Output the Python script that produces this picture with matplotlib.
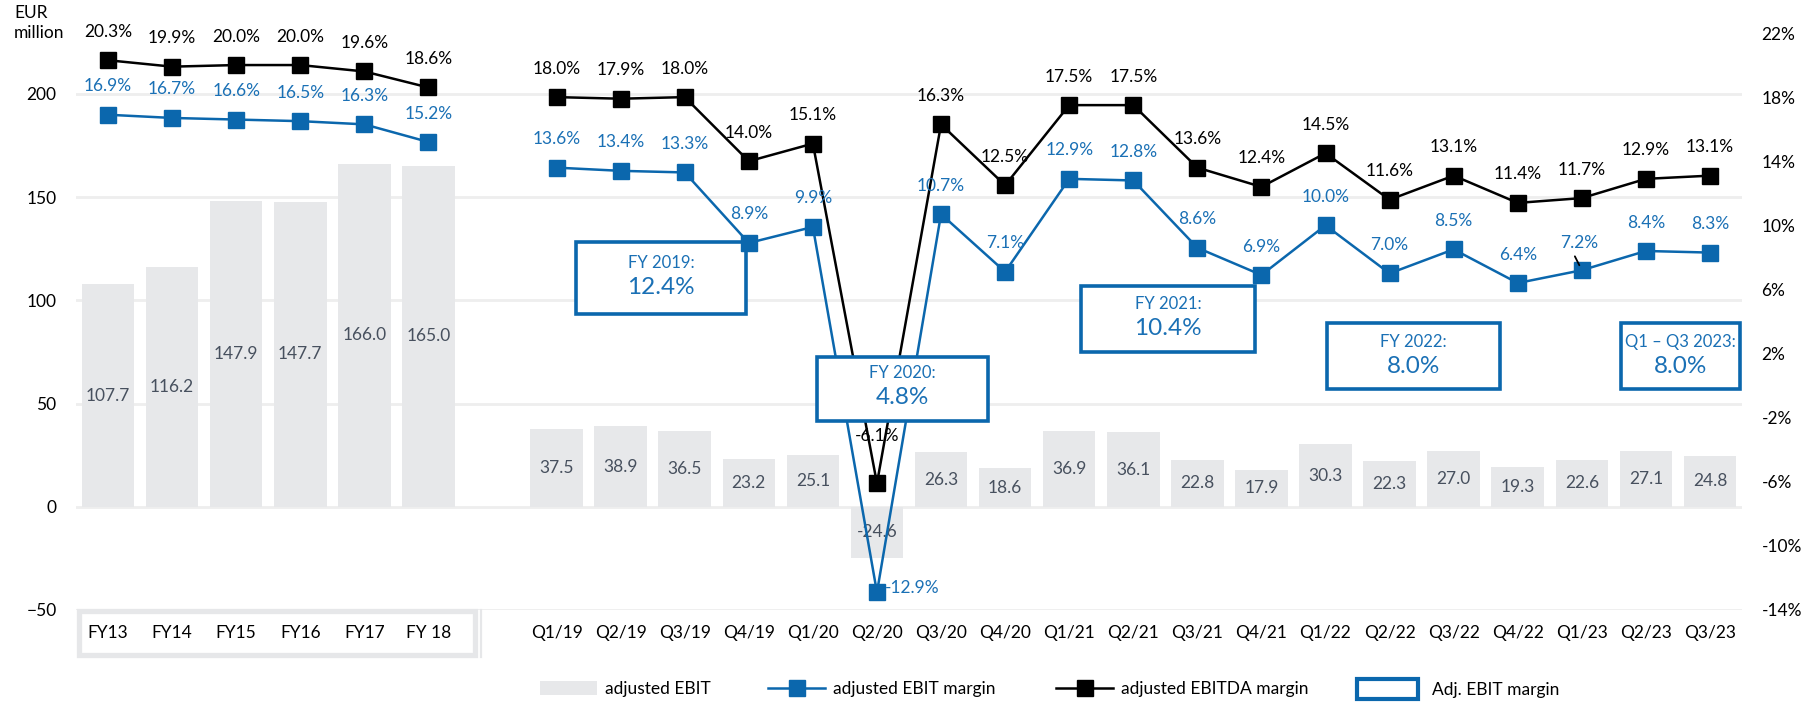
import matplotlib
matplotlib.use("Agg")
import matplotlib.pyplot as plt
from matplotlib.patches import Rectangle, Patch
from matplotlib.lines import Line2D
import numpy as np

plt.rcParams['font.family'] = ['Lato', 'DejaVu Sans']

# ---------------- data ----------------
fy_labels = ["FY13", "FY14", "FY15", "FY16", "FY17", "FY 18"]
q_labels = ["Q1/19", "Q2/19", "Q3/19", "Q4/19", "Q1/20", "Q2/20", "Q3/20", "Q4/20",
            "Q1/21", "Q2/21", "Q3/21", "Q4/21", "Q1/22", "Q2/22", "Q3/22", "Q4/22",
            "Q1/23", "Q2/23", "Q3/23"]

fy_ebit = [107.7, 116.2, 147.9, 147.7, 166.0, 165.0]
q_ebit = [37.5, 38.9, 36.5, 23.2, 25.1, -24.6, 26.3, 18.6, 36.9, 36.1, 22.8, 17.9,
          30.3, 22.3, 27.0, 19.3, 22.6, 27.1, 24.8]

fy_ebit_margin = [16.9, 16.7, 16.6, 16.5, 16.3, 15.2]
q_ebit_margin = [13.6, 13.4, 13.3, 8.9, 9.9, -12.9, 10.7, 7.1, 12.9, 12.8, 8.6, 6.9,
                 10.0, 7.0, 8.5, 6.4, 7.2, 8.4, 8.3]

fy_ebitda_margin = [20.3, 19.9, 20.0, 20.0, 19.6, 18.6]
q_ebitda_margin = [18.0, 17.9, 18.0, 14.0, 15.1, -6.1, 16.3, 12.5, 17.5, 17.5, 13.6, 12.4,
                   14.5, 11.6, 13.1, 11.4, 11.7, 12.9, 13.1]

box_titles = ["FY 2019:", "FY 2020:", "FY 2021:", "FY 2022:", "Q1 \u2013 Q3 2023:"]
box_values = ["12.4%", "4.8%", "10.4%", "8.0%", "8.0%"]

legend_labels = ["adjusted EBIT", "adjusted EBIT margin", "adjusted EBITDA margin", "Adj. EBIT margin"]

left_ticks = [-50, 0, 50, 100, 150, 200]
right_ticks = [-14, -10, -6, -2, 2, 6, 10, 14, 18, 22]

# ---------------- assembly ----------------
labels = fy_labels + [""] + q_labels
ebit = np.array(fy_ebit + [np.nan] + q_ebit)
ebit_m = np.array(fy_ebit_margin + [np.nan] + q_ebit_margin)
ebitda_m = np.array(fy_ebitda_margin + [np.nan] + q_ebitda_margin)
x = np.arange(len(labels))

BLUE = '#0b67ad'
BLUE_TXT = '#1a70b5'
BAR = '#e7e8ea'
GRID = '#eeeeee'
BAR_TXT = '#47505e'

W, H = 1805, 702
fig = plt.figure(figsize=(W / 100, H / 100), dpi=100)
L, R, B, T = 76 / W, 1742 / W, 1 - 610 / H, 1 - 33 / H
ax = fig.add_axes([L, B, R - L, T - B])
ax.set_xlim(-0.5, len(labels) - 0.5)
ax.set_ylim(-50, 229.5)

ax.bar(x, ebit, width=0.82, color=BAR, zorder=2)
for xi, v in zip(x, ebit):
    if np.isnan(v):
        continue
    ax.text(xi, v / 2, f"{v:.1f}", ha='center', va='center', fontsize=12.5,
            color=BAR_TXT, zorder=3)

ax.set_yticks(left_ticks)
ax.yaxis.grid(True, color=GRID, lw=2)
ax.set_axisbelow(True)
ax.set_xticks(x)
ax.set_xticklabels(labels)
ax.tick_params(axis='x', length=0, pad=11, labelsize=12.5)
ax.tick_params(axis='y', length=0, pad=14, labelsize=12.5)
for s in ax.spines.values():
    s.set_visible(False)

ax2 = ax.twinx()
ax2.set_ylim(-14, 22)
ax2.set_xlim(-0.5, len(labels) - 0.5)
ax2.set_yticks(right_ticks)
ax2.set_yticklabels([f"{t}%" for t in right_ticks])
ax2.tick_params(axis='y', length=0, pad=14, labelsize=12.5)
for s in ax2.spines.values():
    s.set_visible(False)

# lines
ax2.plot(x, ebitda_m, color='black', lw=1.8, zorder=3)
ax2.plot(x, ebit_m, color=BLUE, lw=1.8, zorder=3)
ax2.plot(x, ebitda_m, ls='none', marker='s', ms=11, color='black', zorder=6)
ax2.plot(x, ebit_m, ls='none', marker='s', ms=11, color=BLUE, zorder=6)

# labels
q2_20 = labels.index("Q2/20")
q1_23 = labels.index("Q1/23")
for xi, v in zip(x, ebitda_m):
    if np.isnan(v):
        continue
    dy = 34 if xi == q2_20 else 20.5
    ax2.annotate(f"{v:.1f}%", (xi, v), xytext=(0, dy), textcoords='offset points',
                 ha='center', va='center', fontsize=12.5, color='black', zorder=7)
for xi, v in zip(x, ebit_m):
    if np.isnan(v):
        continue
    if xi == q2_20:
        ax2.annotate(f"{v:.1f}%", (xi, v), xytext=(6, 3), textcoords='offset points',
                     ha='left', va='center', fontsize=12.5, color=BLUE_TXT, zorder=7)
    elif xi == q1_23:
        ax2.annotate(f"{v:.1f}%", (xi, v), xytext=(-2, 19.5), textcoords='offset points',
                     ha='center', va='center', fontsize=12.5, color=BLUE_TXT, zorder=7)
        ax2.annotate("", (xi, v), xytext=(-5, 10), textcoords='offset points',
                     arrowprops=dict(arrowstyle='-', color='black', lw=1.3,
                                     shrinkA=0, shrinkB=4), zorder=7)
    else:
        ax2.annotate(f"{v:.1f}%", (xi, v), xytext=(0, 20.5), textcoords='offset points',
                     ha='center', va='center', fontsize=12.5, color=BLUE_TXT, zorder=7)

# annotation boxes (figure pixel coords)
boxes = [(576, 746, 242, 314, 263, 288),
         (817, 988, 357, 421, 373, 398),
         (1081, 1255, 286, 352, 304, 328),
         (1327, 1500, 323, 389, 342, 367),
         (1621, 1740, 323, 389, 342, 367)]
for (x0, x1, y0, y1, t1, t2), title, val in zip(boxes, box_titles, box_values):
    rect = Rectangle((x0 / W, 1 - y1 / H), (x1 - x0) / W, (y1 - y0) / H,
                     transform=fig.transFigure, facecolor='white', edgecolor=BLUE,
                     lw=2.6, zorder=5, clip_on=False)
    ax2.add_patch(rect)
    ax2.text((x0 + x1) / 2 / W, 1 - t1 / H, title, transform=fig.transFigure,
             ha='center', va='center', fontsize=12, color=BLUE_TXT, zorder=5.5)
    ax2.text((x0 + x1) / 2 / W, 1 - t2 / H, val, transform=fig.transFigure,
             ha='center', va='center', fontsize=17.5, color=BLUE_TXT, zorder=5.5)

# x-label frame decorations
fig.add_artist(Rectangle((78.5 / W, 1 - 654.5 / H), (474.5 - 78.5) / W, (654.5 - 610.5) / H,
                         transform=fig.transFigure, facecolor='none', edgecolor='#e6e7e9',
                         lw=3.8, zorder=0.5))
fig.add_artist(Line2D([481 / W, 481 / W], [1 - 610 / H, 1 - 657 / H],
                      transform=fig.transFigure, color='#e6e7e9', lw=1.6, zorder=0.5))

# EUR million
fig.text(14 / W, 1 - 13 / H, "EUR", ha='left', va='center', fontsize=12.5)
fig.text(14 / W, 1 - 33 / H, "million", ha='left', va='center', fontsize=12.5)

# legend (four separate entries)
handles = [Patch(facecolor=BAR, edgecolor='none'),
           Line2D([], [], color=BLUE, lw=1.8, marker='s', ms=11),
           Line2D([], [], color='black', lw=1.8, marker='s', ms=11),
           Patch(facecolor='white', edgecolor=BLUE, lw=3)]
starts = [540, 768, 1056, 1357]
hlens = [3.3, 3.3, 3.3, 3.5]
hheights = [0.9, 0.9, 0.9, 1.35]
for h, lab, xs, hl, hh in zip(handles, legend_labels, starts, hlens, hheights):
    fig.legend([h], [lab], loc='center left', bbox_to_anchor=(xs / W, 1 - 689 / H),
               frameon=False, borderpad=0, borderaxespad=0, handlelength=hl,
               handletextpad=0.8 if hh > 1 else 0.45, fontsize=12.5, handleheight=hh)

fig.savefig("out.png", dpi=100)
